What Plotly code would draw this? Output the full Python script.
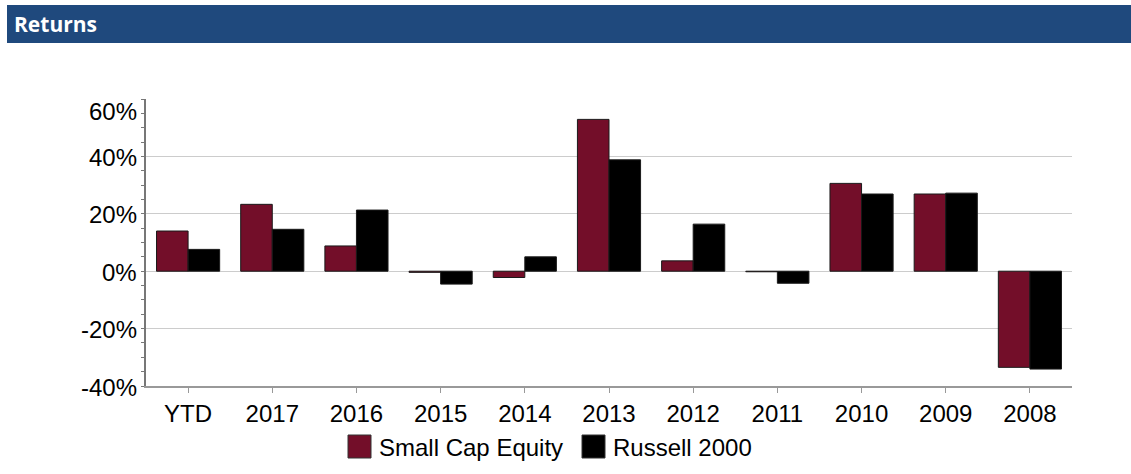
import plotly.graph_objects as go

categories = ["YTD", "2017", "2016", "2015", "2014", "2013", "2012", "2011", "2010", "2009", "2008"]
small_cap = [14.0, 23.3, 8.8, -0.4, -2.2, 52.9, 3.6, -0.2, 30.6, 26.9, -33.5]
russell = [7.6, 14.6, 21.3, -4.5, 5.0, 38.8, 16.4, -4.2, 26.9, 27.2, -34.1]
y_ticks = [-40, -20, 0, 20, 40, 60]
y_tick_labels = ["-40%", "-20%", "0%", "20%", "40%", "60%"]
series_names = ["Small Cap Equity", "Russell 2000"]
title_text = "Returns"

MAROON = "#730E29"
BLACK = "#000000"
HEADER = "#1F497D"

W, H = 1131, 474
ML, MR, MT, MB = 146, 59, 99, 88
PW, PH = W - ML - MR, H - MT - MB


def px2x(px):
    return (px - ML) / PW


def py2y(py):
    return (H - MB - py) / PH


fig = go.Figure()
fig.add_trace(go.Bar(x=categories, y=small_cap, name=series_names[0],
                     marker=dict(color=MAROON, line=dict(color="#1a1a1a", width=1)),
                     showlegend=False))
fig.add_trace(go.Bar(x=categories, y=russell, name=series_names[1],
                     marker=dict(color=BLACK, line=dict(color="#1a1a1a", width=1)),
                     showlegend=False))

font = "Liberation Sans, Arial, sans-serif"

shapes = [
    # header bar
    dict(type="rect", xref="paper", yref="paper", x0=px2x(7), x1=px2x(1131),
         y0=py2y(43), y1=py2y(5), fillcolor=HEADER, line=dict(width=0), layer="below"),
    # legend swatches
    dict(type="rect", xref="paper", yref="paper", x0=px2x(348), x1=px2x(371),
         y0=py2y(458), y1=py2y(435), fillcolor=MAROON, line=dict(color="#333", width=1)),
    dict(type="rect", xref="paper", yref="paper", x0=px2x(582), x1=px2x(605),
         y0=py2y(458), y1=py2y(435), fillcolor=BLACK, line=dict(color="#333", width=1)),
]

annotations = [
    dict(text="<b>" + title_text + "</b>", xref="paper", yref="paper", x=px2x(12), y=py2y(24),
         xanchor="left", yanchor="middle", showarrow=False,
         font=dict(family="Open Sans, sans-serif", size=21, color="white")),
    dict(text=series_names[0], xref="paper", yref="paper", x=px2x(377), y=py2y(447),
         xanchor="left", yanchor="middle", showarrow=False,
         font=dict(family=font, size=24, color="black")),
    dict(text=series_names[1], xref="paper", yref="paper", x=px2x(611), y=py2y(447),
         xanchor="left", yanchor="middle", showarrow=False,
         font=dict(family=font, size=24, color="black")),
]
for v, lab in zip(y_ticks, y_tick_labels):
    annotations.append(dict(text=lab, xref="paper", yref="y", x=0, y=v, xanchor="right",
                            yanchor="middle", xshift=-7, yshift=(-12 if v == max(y_ticks) else -1),
                            showarrow=False, font=dict(family=font, size=24, color="black")))

fig.update_layout(
    width=W, height=H,
    margin=dict(l=ML, r=MR, t=MT, b=MB, pad=0),
    paper_bgcolor="white", plot_bgcolor="white",
    barmode="group", bargap=0.25, bargroupgap=0,
    showlegend=False,
    shapes=shapes, annotations=annotations,
    font=dict(family=font, size=24, color="black"),
)
fig.update_xaxes(
    type="category", showgrid=False, showline=True, linecolor="#999", linewidth=1.5,
    ticks="outside", ticklen=5, tickcolor="#999", tickwidth=1,
    tickfont=dict(family=font, size=24, color="black"), zeroline=False,
)
fig.update_yaxes(
    range=[-40, 60], tickmode="array", tickvals=y_ticks, showticklabels=False,
    showgrid=True, gridcolor="#cccccc", gridwidth=1.2, zeroline=False,
    showline=True, linecolor="#777", linewidth=1.5,
    ticks="outside", ticklen=3, tickcolor="#777",
    minor=dict(dtick=5, ticks="outside", ticklen=3, tickcolor="#777", showgrid=False),
)

fig.write_html("out.html", config={"displayModeBar": False},
               post_script="document.body.style.margin='0px';document.body.style.overflow='hidden';")
